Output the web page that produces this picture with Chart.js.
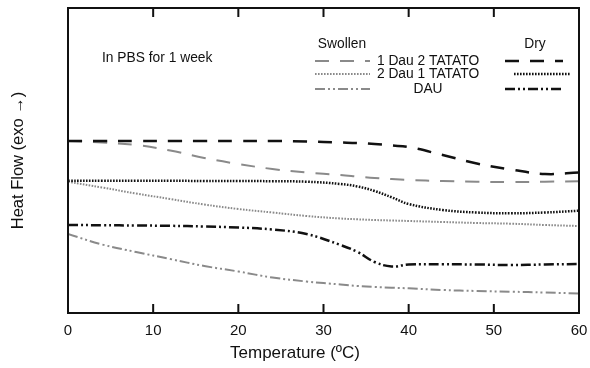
<!DOCTYPE html>
<html>
<head>
<meta charset="utf-8">
<script src="https://cdn.jsdelivr.net/npm/chart.js@4/dist/chart.umd.min.js"></script>
<style>
  html, body { margin: 0; padding: 0; background: #fff; }
  #wrap { width: 590px; height: 368px; }
</style>
</head>
<body>
<div id="wrap"><canvas id="chartDsc"></canvas></div>
<script>
// temperature (ºC) and heat flow (arbitrary units, exo up)
const temps = [0, 4, 8, 12, 16, 20, 24, 28, 32, 34, 36, 38, 40, 44, 48, 52, 56, 60];
const xTicks = [0, 10, 20, 30, 40, 50, 60];

const dry1Dau2 = [172, 172, 172, 172, 172, 172, 172, 171.5, 170.5, 170, 169, 167.5, 166, 158, 149.5, 143.5, 139, 140.5];
const swollen1Dau2 = [172, 170.5, 168, 162.5, 155, 149, 144, 140.5, 138, 136.5, 135, 134, 133, 132, 131.3, 131, 131.3, 131.7];
const dry2Dau1 = [132.3, 132.3, 132.3, 132.3, 132, 132, 131.8, 131.3, 129, 126.5, 122, 115.7, 109, 103, 100.5, 99.7, 100.5, 102.3];
const swollen2Dau1 = [131.3, 125.5, 119.5, 114, 108.5, 104, 100.5, 97, 94.5, 93.7, 93, 92.5, 92, 91, 90, 89.3, 88, 87];
const dryDau = [88, 87.8, 87.5, 87.2, 86.5, 85.5, 83.5, 79, 68, 61, 51, 46.5, 48.5, 48.7, 48.5, 48, 48.5, 49];
const swollenDau = [79, 68.5, 61, 54, 47, 41.5, 35.5, 31.5, 28.5, 27, 26, 25.3, 24.7, 23, 22, 21.3, 20.5, 19.5];

const GRAY = "#8a8a8a";
const BLACK = "#111";
const DASH = [14, 11];
const DOT = [1.6, 1.4];
const DASHDOT = [10, 3, 2, 3, 2, 3];
const FONT = "'Liberation Sans', Arial, sans-serif";

function pts(vals) {
  return temps.map((t, i) => ({ x: t, y: vals[i] }));
}

function ds(label, vals, color, dash, width) {
  return {
    label: label,
    data: pts(vals),
    borderColor: color,
    borderWidth: width,
    borderDash: dash,
    pointRadius: 0,
    tension: 0.4,
    fill: false,
  };
}

// box around the plot + inward ticks on top and bottom + x title (sits left of centre in the original)
const framePlugin = {
  id: "frame",
  afterDraw(chart) {
    const { ctx, chartArea: a, scales } = chart;
    ctx.save();
    ctx.strokeStyle = BLACK;
    ctx.lineWidth = 2;
    ctx.setLineDash([]);
    ctx.strokeRect(a.left, a.top, a.right - a.left, a.bottom - a.top);
    xTicks.forEach((t) => {
      const x = scales.x.getPixelForValue(t);
      ctx.beginPath();
      ctx.moveTo(x, a.bottom);
      ctx.lineTo(x, a.bottom - 9);
      ctx.moveTo(x, a.top);
      ctx.lineTo(x, a.top + 9);
      ctx.stroke();
    });
    ctx.fillStyle = BLACK;
    ctx.font = "17px " + FONT;
    ctx.textAlign = "center";
    ctx.textBaseline = "middle";
    ctx.fillText("Temperature (ºC)", 295, 353);
    ctx.restore();
  },
};

// the two-column legend drawn inside the plot
const legendPlugin = {
  id: "dscLegend",
  afterDraw(chart) {
    const ctx = chart.ctx;
    ctx.save();
    ctx.fillStyle = BLACK;
    ctx.font = "13.8px " + FONT;
    ctx.textBaseline = "middle";
    ctx.textAlign = "left";
    ctx.fillText("In PBS for 1 week", 102, 58);
    ctx.textAlign = "center";
    ctx.fillText("Swollen", 342, 44);
    ctx.fillText("Dry", 535, 44);
    const rows = [
      { text: "1 Dau 2 TATATO", y: 61, dash: DASH },
      { text: "2 Dau 1 TATATO", y: 74, dash: DOT },
      { text: "DAU", y: 89, dash: DASHDOT },
    ];
    rows.forEach((r) => {
      ctx.fillStyle = BLACK;
      ctx.fillText(r.text, 428, r.y);
      ctx.setLineDash(r.dash);
      ctx.lineWidth = 2;
      ctx.strokeStyle = GRAY;
      ctx.beginPath();
      ctx.moveTo(315, r.y);
      ctx.lineTo(370, r.y);
      ctx.stroke();
      ctx.lineWidth = 2.5;
      ctx.strokeStyle = BLACK;
      ctx.beginPath();
      ctx.moveTo(r.dash === DOT ? 514 : 505, r.y);
      ctx.lineTo(r.dash === DOT ? 571 : 563, r.y);
      ctx.stroke();
    });
    ctx.restore();
  },
};

const chartDsc = new Chart("chartDsc", {
  type: "line",
  data: {
    datasets: [
      ds("Dry 1 Dau 2 TATATO", dry1Dau2, BLACK, DASH, 2.5),
      ds("Swollen 1 Dau 2 TATATO", swollen1Dau2, GRAY, DASH, 2),
      ds("Dry 2 Dau 1 TATATO", dry2Dau1, BLACK, DOT, 2.5),
      ds("Swollen 2 Dau 1 TATATO", swollen2Dau1, GRAY, DOT, 2),
      ds("Dry DAU", dryDau, BLACK, DASHDOT, 2.5),
      ds("Swollen DAU", swollenDau, GRAY, DASHDOT, 2),
    ],
  },
  options: {
    responsive: true,
    maintainAspectRatio: false,
    animation: false,
    layout: { padding: { top: 8, right: 11, left: 0, bottom: 0 } },
    plugins: {
      legend: { display: false },
      tooltip: { enabled: false },
    },
    scales: {
      x: {
        type: "linear",
        min: 0,
        max: 60,
        afterBuildTicks(scale) {
          scale.ticks = xTicks.map((v) => ({ value: v }));
        },
        afterFit(scale) {
          scale.height = 55;
          scale.paddingLeft = 0;
          scale.paddingRight = 0;
        },
        grid: { display: false, drawTicks: false },
        border: { display: false },
        ticks: {
          color: BLACK,
          padding: 9,
          font: { family: FONT, size: 15 },
        },
        title: { display: false },
      },
      y: {
        min: 0,
        max: 305,
        afterFit(scale) {
          scale.width = 68;
        },
        grid: { display: false, drawTicks: false },
        border: { display: false },
        ticks: { display: false },
        title: {
          display: true,
          text: "Heat Flow (exo \u2192)",
          color: BLACK,
          padding: { top: 9, bottom: 0 },
          font: { family: FONT, size: 16.5 },
        },
      },
    },
  },
  plugins: [framePlugin, legendPlugin],
});
</script>
</body>
</html>
